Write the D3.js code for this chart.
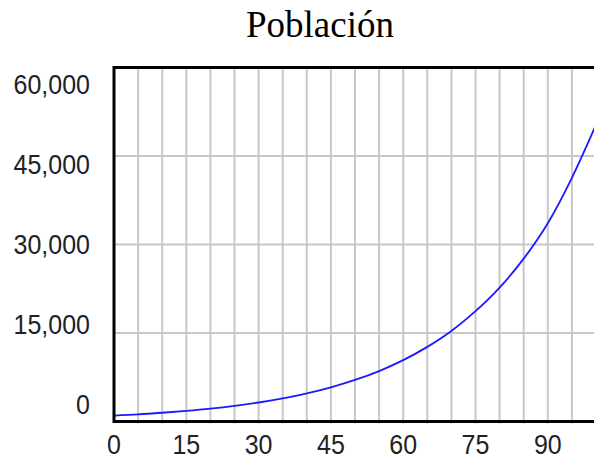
<!DOCTYPE html>
<html>
<head>
<meta charset="utf-8">
<script src="https://cdn.jsdelivr.net/npm/d3@7"></script>
<style>
  html, body { margin: 0; padding: 0; background: #fff; }
  svg { display: block; }
</style>
</head>
<body>
<svg id="chart" width="594" height="459"></svg>
<script>
// ── Data ──────────────────────────────────────────────────────────────────────
const title = "Población";
const time = [0, 5, 10, 15, 20, 25, 30, 35, 40, 45, 50, 55, 60, 65, 70, 75, 80, 85, 90, 95, 100];
const population = [1000, 1200, 1480, 1800, 2180, 2650, 3220, 3920, 4760, 5790, 7040,
  8550, 10400, 12650, 15350, 18700, 22700, 27600, 33600, 41300, 50300];
const xTicks = [0, 15, 30, 45, 60, 75, 90];
const yTicks = [0, 15000, 30000, 45000, 60000];
const xGrid = d3.range(5, 100, 5);

// ── Scales ────────────────────────────────────────────────────────────────────
const plotLeft = 114, plotTop = 67.5, plotBottom = 421.5, plotRight = 596;
const x = d3.scaleLinear().domain([0, 100]).range([plotLeft, plotRight]);
const y = d3.scaleLinear().domain([0, 60000]).range([plotBottom, plotTop]);
// tick labels sit on a slightly tighter spacing than the gridlines
const yLabel = d3.scaleLinear().domain([0, 60000]).range([405, 85]);

const svg = d3.select("#chart");
const fmt = d3.format(",");

// ── Grid ──────────────────────────────────────────────────────────────────────
svg.append("g")
  .selectAll("line")
  .data(xGrid)
  .join("line")
  .attr("x1", (d) => x(d)).attr("x2", (d) => x(d))
  .attr("y1", plotTop).attr("y2", plotBottom + 2)
  .attr("stroke", "#c8c8c8").attr("stroke-width", 2);

svg.append("g")
  .selectAll("line")
  .data(yTicks.filter((d) => d > 0 && d < 60000))
  .join("line")
  .attr("x1", plotLeft).attr("x2", 594)
  .attr("y1", (d) => y(d)).attr("y2", (d) => y(d))
  .attr("stroke", "#c8c8c8").attr("stroke-width", 2);

// ── Line ──────────────────────────────────────────────────────────────────────
const line = d3.line()
  .x((d, i) => x(time[i]))
  .y((d) => y(d))
  .curve(d3.curveMonotoneX);

svg.append("path")
  .datum(population)
  .attr("d", line)
  .attr("fill", "none")
  .attr("stroke", "#1a1aff")
  .attr("stroke-width", 1.8);

// ── Frame ─────────────────────────────────────────────────────────────────────
const frame = svg.append("g").attr("stroke", "#000").attr("stroke-width", 3);
frame.append("line").attr("x1", plotLeft).attr("x2", 594).attr("y1", y(60000)).attr("y2", y(60000));
frame.append("line").attr("x1", plotLeft).attr("x2", 594).attr("y1", y(0)).attr("y2", y(0));
frame.append("line").attr("x1", x(0)).attr("x2", x(0)).attr("y1", plotTop - 1.5).attr("y2", plotBottom + 1.5);

// ── Labels ────────────────────────────────────────────────────────────────────
svg.append("g")
  .selectAll("text")
  .data(yTicks)
  .join("text")
  .attr("transform", (d) => `translate(90,${yLabel(d) + 9}) scale(1,1.14)`)
  .attr("text-anchor", "end")
  .attr("font-family", "Liberation Sans, Arial, sans-serif")
  .attr("font-size", 25)
  .attr("fill", "#222")
  .text((d) => fmt(d));

svg.append("g")
  .selectAll("text")
  .data(xTicks)
  .join("text")
  .attr("transform", (d) => `translate(${x(d)},454) scale(1,1.1)`)
  .attr("text-anchor", "middle")
  .attr("font-family", "Liberation Sans, Arial, sans-serif")
  .attr("font-size", 25)
  .attr("fill", "#222")
  .text((d) => d);

svg.append("text")
  .attr("x", 320)
  .attr("y", 37)
  .attr("text-anchor", "middle")
  .attr("font-family", "Liberation Serif, Times New Roman, serif")
  .attr("font-size", 37)
  .attr("fill", "#000")
  .text(title);
</script>
</body>
</html>
